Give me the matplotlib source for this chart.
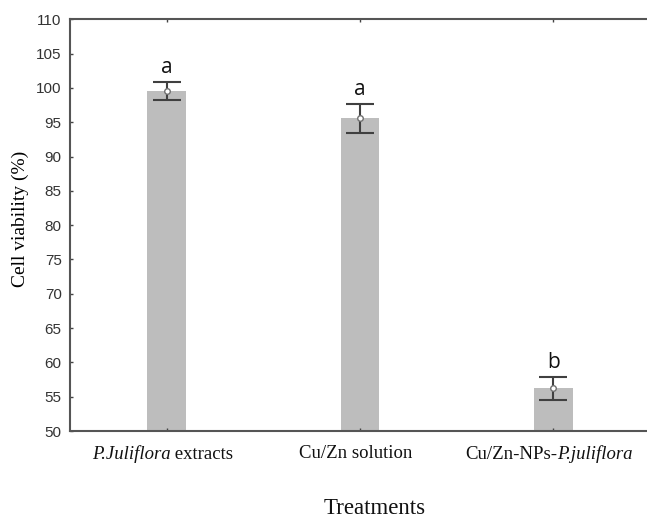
import numpy as np
import matplotlib
matplotlib.use('Agg')
import matplotlib.pyplot as plt
from matplotlib.offsetbox import TextArea, HPacker, AnnotationBbox

# tick labels split into (text, style) pieces so the species names can be italic
label_parts = [
    [('P.Juliflora', 'italic'), (' extracts', 'normal')],
    [('Cu/Zn solution', 'normal')],
    [('Cu/Zn-NPs-', 'normal'), ('P.juliflora', 'italic')],
]
viability = [99.6, 95.6, 56.2]
errors = [1.3, 2.1, 1.7]
letters = ['a', 'a', 'b']
y_ticks = list(range(50, 111, 5))

fig = plt.figure(figsize=(6.47, 5.21), dpi=100)
ax = fig.add_axes([0.1082, 0.1727, 0.8964, 0.7903])

x = np.arange(len(viability))
ax.bar(x, viability, width=0.2, color='#bdbdbd', zorder=1)
ax.errorbar(x, viability, yerr=errors, fmt='none', ecolor='#404040',
            elinewidth=1.5, capsize=10, capthick=1.5, zorder=2)
ax.plot(x, viability, 'o', ms=4, mfc='white', mec='#707070', mew=1, zorder=3)

for xi, v, e, lab in zip(x, viability, errors, letters):
    ax.text(xi, v + e + 1.25, lab, ha='center', va='baseline', fontsize=15,
            family='Open Sans', color='#111111')

ax.set_xlim(-0.5, 2.5)
ax.set_ylim(50, 110)
ax.set_yticks(y_ticks)
ax.set_xticks(x)
ax.set_xticklabels([''] * len(x))
for t in ax.get_yticklabels():
    t.set_family('Liberation Sans')
    t.set_fontsize(11)
    t.set_color('#333333')

# x tick labels with mixed italic / upright pieces
for xi, parts in zip(x, label_parts):
    areas = [TextArea(txt, textprops=dict(family='Liberation Serif', fontsize=13.5,
                                          style=st, color='#111111'))
             for txt, st in parts]
    box = HPacker(children=areas, align='baseline', pad=0, sep=0)
    ab = AnnotationBbox(box, (xi, 0), xycoords=ax.get_xaxis_transform(),
                        xybox=(-3, -10), boxcoords='offset points',
                        box_alignment=(0.5, 1), frameon=False, pad=0,
                        annotation_clip=False)
    ax.add_artist(ab)

ax.tick_params(axis='both', direction='in', length=2, width=1, color='#444444',
               top=True, right=True)
ax.tick_params(axis='y', pad=6)

for s in ax.spines.values():
    s.set_color('#555555')
    s.set_linewidth(1.5)

ax.set_ylabel('Cell viability (%)', family='Liberation Serif', fontsize=14)
ax.yaxis.set_label_coords(-0.07, 0.515)
fig.text(375 / 647, 1 - 508 / 521, 'Treatments', family='Liberation Serif',
         fontsize=16.5, ha='center', va='center', color='#111111')

fig.savefig('out.png', dpi=100)
